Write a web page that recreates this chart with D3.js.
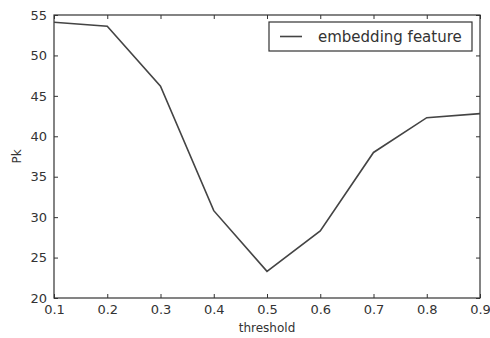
<!DOCTYPE html>
<html>
<head>
<meta charset="utf-8">
<script src="https://cdn.jsdelivr.net/npm/d3@7"></script>
<style>
  body { margin: 0; background: #fff; }
  text { font-family: "DejaVu Sans", sans-serif; fill: #333; }
</style>
</head>
<body>
<div id="chart"></div>
<script>
const thresholds = [0.1, 0.2, 0.3, 0.4, 0.5, 0.6, 0.7, 0.8, 0.9];
const pkValues = [54.1, 53.6, 46.2, 30.8, 23.3, 28.3, 38.0, 42.3, 42.8];
const xTicks = [0.1, 0.2, 0.3, 0.4, 0.5, 0.6, 0.7, 0.8, 0.9];
const yTicks = [20, 25, 30, 35, 40, 45, 50, 55];
const seriesName = "embedding feature";

const width = 490, height = 338;
const plotLeft = 54, plotRight = 480, plotTop = 15, plotBottom = 298;
const ink = "#333";

const svg = d3.select("#chart").append("svg")
    .attr("width", width)
    .attr("height", height);

const x = d3.scaleLinear().domain([0.1, 0.9]).range([plotLeft, plotRight]);
const y = d3.scaleLinear().domain([20, 55]).range([plotBottom, plotTop]);

// ticks pointing inward on all four sides
function styleAxis(g) {
    g.select(".domain").remove();
    g.selectAll(".tick line").attr("stroke", ink);
    g.selectAll(".tick text").style("font-size", "13px").attr("fill", ink);
}

svg.append("g")
    .attr("transform", "translate(0," + plotBottom + ")")
    .call(d3.axisBottom(x).tickValues(xTicks).tickFormat(d3.format(".1f")).tickSizeInner(-4).tickPadding(7))
    .call(styleAxis);

svg.append("g")
    .attr("transform", "translate(0," + plotTop + ")")
    .call(d3.axisTop(x).tickValues(xTicks).tickFormat("").tickSizeInner(-4))
    .call(styleAxis);

svg.append("g")
    .attr("transform", "translate(" + plotLeft + ",0)")
    .call(d3.axisLeft(y).tickValues(yTicks).tickSizeInner(-4).tickPadding(7))
    .call(styleAxis);

svg.append("g")
    .attr("transform", "translate(" + plotRight + ",0)")
    .call(d3.axisRight(y).tickValues(yTicks).tickFormat("").tickSizeInner(-4))
    .call(styleAxis);

// frame
svg.append("rect")
    .attr("x", plotLeft)
    .attr("y", plotTop)
    .attr("width", plotRight - plotLeft)
    .attr("height", plotBottom - plotTop)
    .attr("fill", "none")
    .attr("stroke", ink)
    .attr("stroke-width", 1.2);

const data = thresholds.map((t, i) => ({ t: t, v: pkValues[i] }));

svg.append("path")
    .datum(data)
    .attr("fill", "none")
    .attr("stroke", "#444")
    .attr("stroke-width", 1.6)
    .attr("d", d3.line().x(d => x(d.t)).y(d => y(d.v)));

// axis labels
svg.append("text")
    .attr("x", (plotLeft + plotRight) / 2)
    .attr("y", 332)
    .attr("text-anchor", "middle")
    .style("font-size", "12px")
    .text("threshold");

svg.append("text")
    .attr("transform", "translate(21," + ((plotTop + plotBottom) / 2) + ") rotate(-90)")
    .attr("text-anchor", "middle")
    .style("font-size", "12px")
    .text("Pk");

// legend
const legend = svg.append("g");
legend.append("rect")
    .attr("x", 269)
    .attr("y", 22)
    .attr("width", 203)
    .attr("height", 29)
    .attr("fill", "#fff")
    .attr("stroke", ink)
    .attr("stroke-width", 1.2);
legend.append("line")
    .attr("x1", 280).attr("x2", 302)
    .attr("y1", 36.5).attr("y2", 36.5)
    .attr("stroke", "#444")
    .attr("stroke-width", 1.6);
legend.append("text")
    .attr("x", 318)
    .attr("y", 42)
    .style("font-size", "15px")
    .text(seriesName);
</script>
</body>
</html>
